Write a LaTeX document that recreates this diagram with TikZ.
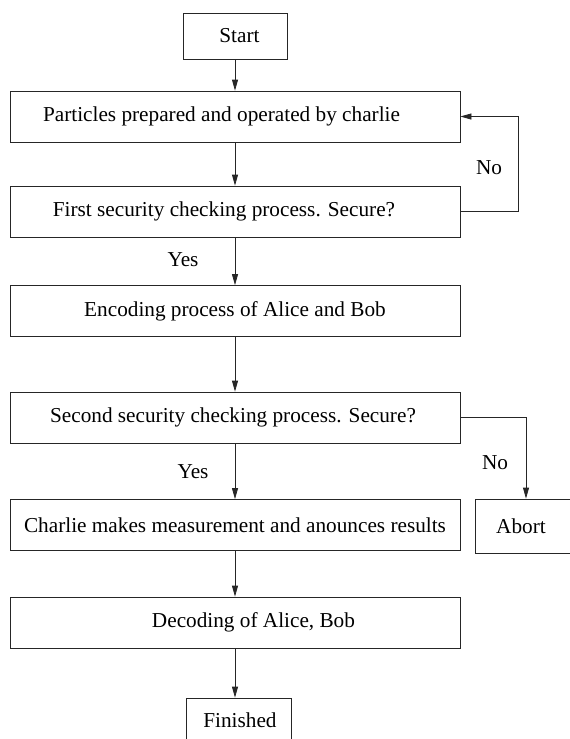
\documentclass[tikz,border=0pt]{standalone}
\usepackage{fontspec}
\setmainfont{Liberation Serif}
\usetikzlibrary{arrows.meta}

\tikzset{
  procbox/.style={draw=black!85, line width=0.8pt, minimum width=450pt,
    minimum height=51pt, inner sep=0pt},
  flow/.style={draw=black!85, line width=0.8pt,
    -{Triangle[length=11pt,width=6pt]}},
  tag/.style={inner sep=0pt}
}

\begin{document}
\begin{tikzpicture}[x=1pt, y={(0pt,-1pt)}, font=\fontsize{21.25}{25}\selectfont]
  \useasboundingbox (0,0) rectangle (570,739);

  % Main column
  \node[procbox, minimum width=104pt, minimum height=46pt]
    (start) at (235,36) {\hspace*{9pt}Start};
  \node[procbox] (prep) at (235,116.5)
    {Particles prepared and operated by charlie\hspace*{27pt}};
  \node[procbox] (check1) at (235,211.5)
    {First security checking process. Secure?\hspace*{22pt}};
  \node[procbox] (encode) at (235,311)
    {Encoding process of Alice and Bob};
  \node[procbox] (check2) at (235,417.5)
    {Second security checking process. Secure?\hspace*{4pt}};
  \node[procbox] (measure) at (235,525)
    {Charlie makes measurement and anounces results};
  \node[procbox] (decode) at (235,622.5)
    {\hspace*{37pt}Decoding of Alice, Bob};
  \node[procbox, minimum width=105pt, minimum height=44pt]
    (finish) at (238.5,720) {\hspace*{3pt}Finished};

  % Side box (runs past the right edge)
  \node[procbox, minimum width=100pt, minimum height=54pt]
    (abort) at (525,526) {Abort\hspace*{8pt}};

  % Flow
  \draw[flow] (start) -- (prep);
  \draw[flow] (prep) -- (check1);
  \draw[flow] (check1) -- (encode);
  \draw[flow] (encode) -- (check2);
  \draw[flow] (check2) -- (measure);
  \draw[flow] (measure) -- (decode);
  \draw[flow] (decode.south) -- (decode.south |- finish.north);

  % Branches
  \draw[flow] (check1.east) -- ++(58,0) |- (prep.east);
  \draw[flow] (check2.east) -| ([xshift=1pt]abort.north);

  % Branch labels
  \node[tag] (yes1) at (183,260) {Yes};
  \node[tag] (yes2) at (193,472) {Yes};
  \node[tag] (no1) at (489,168) {No};
  \node[tag] (no2) at (495,463) {No};

\end{tikzpicture}
\end{document}
